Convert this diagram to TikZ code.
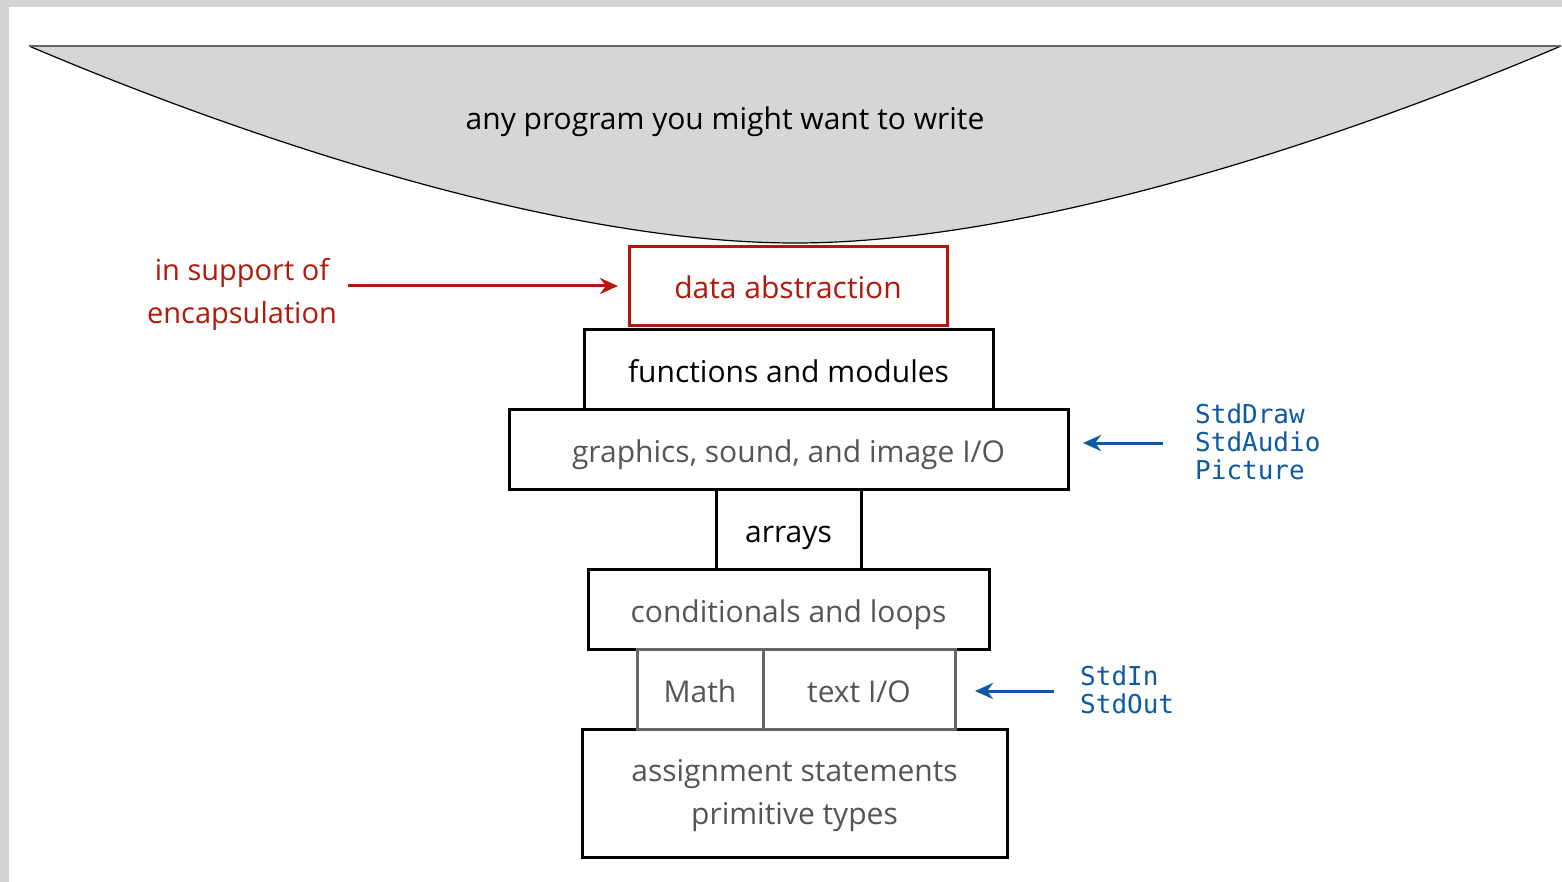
\documentclass[tikz,border=0pt]{standalone}
\usepackage{fontspec}
\setmainfont{Open Sans}
\newfontfamily\monofnt{DejaVu Sans Mono}
\usetikzlibrary{arrows.meta}
\definecolor{funnel}{HTML}{D6D6D6}
\definecolor{redc}{HTML}{B01A0C}
\definecolor{bluec}{HTML}{0E5AA0}
\definecolor{greytext}{HTML}{555555}
\definecolor{greyline}{HTML}{666666}
\definecolor{shadow}{HTML}{D4D4D4}
\tikzset{
  lbl/.style={font=\fontsize{30}{34}\selectfont},
  onerow/.style={text height=26pt, text depth=0pt},
  layer/.style={draw=black, line width=3pt, fill=white, inner sep=0pt, lbl},
  greylayer/.style={draw=greyline, line width=3pt, fill=white, inner sep=0pt, lbl, onerow, text=greytext},
  redlayer/.style={draw=redc, line width=3pt, fill=white, inner sep=0pt, lbl, onerow, text=redc},
  redarrow/.style={draw=redc, line width=3pt, -{Stealth[length=18pt,width=16pt]}},
  bluearrow/.style={draw=bluec, line width=3pt, -{Stealth[length=18pt,width=16pt]}},
  monotxt/.style={font=\monofnt\fontsize{26}{28}\selectfont, text=bluec, align=left, inner sep=0pt, anchor=north west}
}
\begin{document}
\begin{tikzpicture}[x=1pt,y=-1pt]
\useasboundingbox (0,0) rectangle (1562,882);
% page shadow
\fill[shadow] (0,0) rectangle (1562,882);
\fill[white] (9,7) rectangle (1562,882);
% funnel
\fill[funnel] (29,46) .. controls (250,140) and (560,243) .. (795,243)
   .. controls (1030,243) and (1340,140) .. (1561,46) -- cycle;
\draw[black, line width=1.2pt] (29,46) .. controls (250,140) and (560,243) .. (795,243)
   .. controls (1030,243) and (1340,140) .. (1561,46);
\draw[greyline, line width=2pt] (29,46) -- (1561,46);
\node[lbl] (any) at (725,122) {any program you might want to write};
% layers
\node[redlayer, minimum width=318pt, minimum height=79pt] (data) at (788,286) {data abstraction};
\node[layer, onerow, minimum width=409pt, minimum height=80pt] (func) at (788.5,369) {functions and modules};
\node[layer, onerow, minimum width=559pt, minimum height=80pt, text=greytext] (gfx) at (788.5,449) {graphics, sound, and image I/O};
\node[layer, onerow, minimum width=145pt, minimum height=80pt] (arr) at (788.5,529) {arrays};
\node[layer, onerow, minimum width=401pt, minimum height=80pt, text=greytext] (cond) at (788.5,609) {conditionals and loops};
\node[layer, minimum width=425pt, minimum height=128pt] (asg) at (794.5,793) {};
\node[lbl, text=greytext, align=center, inner sep=0pt] (asgtext) at (794.5,796) {assignment statements\\[9pt]primitive types};
\node[greylayer, minimum width=126pt, minimum height=80pt] (math) at (700,689) {Math};
\node[greylayer, minimum width=192pt, minimum height=80pt] (tio) at (859,689) {text I/O};
% left annotation
\node[lbl, font=\fontsize{29}{34}\selectfont, text=redc, align=center] (sup) at (242,294) {in support of\\[9pt]encapsulation};
\coordinate (ra) at (348,286);
\coordinate (rb) at (618,286);
\draw[redarrow] (ra) -- (rb);
% right annotations
\node[monotxt] (std1) at (1195,404) {StdDraw\\StdAudio\\Picture};
\coordinate (ba) at (1163,443);
\coordinate (bb) at (1083,443);
\draw[bluearrow] (ba) -- (bb);
\node[monotxt] (std2) at (1080,666) {StdIn\\StdOut};
\coordinate (bc) at (1054,691);
\coordinate (bd) at (975,691);
\draw[bluearrow] (bc) -- (bd);
\end{tikzpicture}
\end{document}
